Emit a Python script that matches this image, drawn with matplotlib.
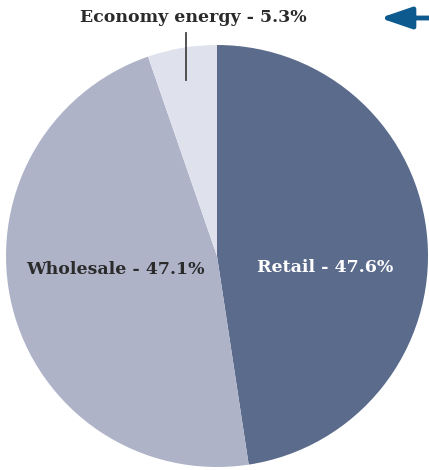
import matplotlib
matplotlib.use("Agg")
import matplotlib.pyplot as plt

categories = ["Retail", "Wholesale", "Economy energy"]
shares = [47.6, 47.1, 5.3]
labels = ["Retail - 47.6%", "Wholesale - 47.1%", "Economy energy - 5.3%"]
colors = ["#5b6b8c", "#aeb3c8", "#dfe2ec"]

W, H = 429, 470
fig = plt.figure(figsize=(W / 100, H / 100), dpi=100)
ax = fig.add_axes([0, 0, 1, 1])
ax.set_xlim(0, W)
ax.set_ylim(0, H)

cx, cy, r = 217, H - 256, 211
ax.pie(shares, colors=colors, startangle=90, counterclock=False,
       center=(cx, cy), radius=r, frame=True,
       wedgeprops=dict(linewidth=0))
ax.set_xlim(0, W)
ax.set_ylim(0, H)
ax.set_aspect("equal")
ax.axis("off")

font = dict(family="DejaVu Serif", fontweight="bold", fontsize=12.5)
ax.text(325, H - 268, labels[0], color="white", ha="center", va="center", **font)
ax.text(115, H - 269, labels[1], color="#2b2b2b", ha="center", va="center", **font)
ax.text(193, H - 18, labels[2], color="#2b2b2b", ha="center", va="center", **font)

# leader line
ax.plot([186, 186], [H - 33, H - 80], color="#444444", lw=1.3)

# arrow top right
ax.annotate("", xy=(380, H - 18), xytext=(429, H - 18),
            arrowprops=dict(arrowstyle="-|>,head_length=1.9,head_width=0.65",
                            color="#0d5a8f", lw=3.5, shrinkA=0, shrinkB=0))

fig.savefig("out.png", dpi=100)
